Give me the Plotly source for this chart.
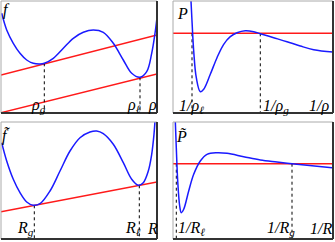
import plotly.graph_objects as go

# Top-left: f(rho)
f_x = [1.7, 6.7, 13.3, 20, 26.7, 33.3, 40, 44.3, 53.3, 63.3, 73.3, 83.3, 93.3, 103.3, 113.3, 123.3, 131.7, 140, 146.7, 151.7, 155, 156.7]
f_y = [13.3, 30, 43.3, 53.3, 60, 63.3, 64, 63.3, 58.3, 48.3, 38.3, 32.3, 30, 32.3, 43.3, 60, 73.3, 77.3, 71.7, 53.3, 33.3, 20]
f_tan1 = ([1, 157], [75, 35])
f_tan2 = ([1, 157], [112.7, 74])
f_drop = {"x": [44.3, 140], "y": [63.3, 77.3]}
f_labels = ["ρ<sub>g</sub>", "ρ<sub>ℓ</sub>", "ρ"]
f_label_x = [38, 134, 152]

# Top-right: P(1/rho)
P_x = [18, 19, 20.7, 23.3, 27.3, 30.7, 37.3, 44, 50.7, 57.3, 64, 72.3, 80.7, 87.3, 100.7, 114, 127.3, 140.7, 160]
P_y = [0, 20, 50, 76.7, 90.7, 88.3, 73.3, 56.7, 43.3, 35.7, 31.7, 29.7, 30.7, 32.7, 36.7, 40.7, 45, 48.7, 51]
P_level = 32.3
P_drop_x = [19, 87.3]
P_labels = ["1/ρ<sub>ℓ</sub>", "1/ρ<sub>g</sub>", "1/ρ"]
P_label_x = [18, 103, 146]

# Bottom-left: f~(R)
ft_x = [1.7, 6.7, 13.3, 20, 26.7, 33.3, 40, 50, 60, 70, 80, 90, 96.7, 103.3, 113.3, 123.3, 131.7, 138.3, 143.3, 148.3, 151.7, 154, 155]
ft_y = [20.7, 39, 57.3, 70.7, 80, 83.3, 81.7, 69, 49, 29, 15.7, 10, 9, 11.7, 22.3, 40.7, 57.3, 63.3, 60.7, 49, 32.3, 12.3, -1]
ft_tan = ([1, 157], [89.7, 60])
ft_drop = {"x": [34.3, 139.3], "y": [83.3, 63.3]}
ft_labels = ["R<sub>g</sub>", "R<sub>ℓ</sub>", "R"]
ft_label_x = [25, 133, 152]

# Bottom-right: P~(1/R)
Pt_x = [2.3, 3.3, 4.7, 6.7, 8.3, 10.7, 15.7, 20.7, 27.3, 34, 44, 54, 70.7, 87.3, 104, 119, 134, 159]
Pt_y = [-1, 25.7, 59, 84, 90.7, 87.3, 69, 52.3, 39, 32.3, 30.7, 31.3, 34.7, 38, 40, 41.7, 43.3, 45.7]
Pt_level = 41.7
Pt_drop_x = [3.3, 119]
Pt_labels = ["1/R<sub>ℓ</sub>", "1/R<sub>g</sub>", "1/R"]
Pt_label_x = [18, 108, 148]

# ---------------- layout ----------------
W, H = 335, 242
panels = {
    "TL": dict(xd=[1 / W, 157 / W], yd=[129 / H, 241 / H], xr=[1, 157], yr=[113, 1]),
    "TR": dict(xd=[173 / W, 333 / W], yd=[129 / H, 241 / H], xr=[0, 160], yr=[112, 0]),
    "BL": dict(xd=[1 / W, 157 / W], yd=[3 / H, 120 / H], xr=[1, 157], yr=[117, 0]),
    "BR": dict(xd=[173 / W, 333 / W], yd=[3 / H, 120 / H], xr=[0, 160], yr=[117, 0]),
}
order = ["TL", "TR", "BL", "BR"]

fig = go.Figure()
BLUE = "#1a1aff"
RED = "#ff1a1a"
FONT = dict(family="Liberation Serif", size=16, color="black")

layout = dict(width=W, height=H, margin=dict(l=0, r=0, t=0, b=0),
              paper_bgcolor="white", plot_bgcolor="white", showlegend=False)
shapes = []
annotations = []
for i, k in enumerate(order):
    p = panels[k]
    sx = "" if i == 0 else str(i + 1)
    layout["xaxis" + sx] = dict(domain=p["xd"], range=p["xr"], visible=False, fixedrange=True,
                                anchor="y" + sx)
    layout["yaxis" + sx] = dict(domain=p["yd"], range=p["yr"], visible=False, fixedrange=True,
                                anchor="x" + sx)
    x0, x1 = p["xd"]
    y0, y1 = p["yd"]
    # frame: light top/left, dark bottom/right
    shapes += [
        dict(type="line", xref="paper", yref="paper", x0=x0, x1=x1, y0=y1, y1=y1, line=dict(color="#aaaaaa", width=1)),
        dict(type="line", xref="paper", yref="paper", x0=x0, x1=x0, y0=y0, y1=y1, line=dict(color="#aaaaaa", width=1)),
        dict(type="line", xref="paper", yref="paper", x0=x0, x1=x1, y0=y0, y1=y0, line=dict(color="#333333", width=2)),
        dict(type="line", xref="paper", yref="paper", x0=x1, x1=x1, y0=y0, y1=y1, line=dict(color="#333333", width=2)),
    ]


def axes(i):
    s = "" if i == 0 else str(i + 1)
    return "x" + s, "y" + s


def curve(i, xs, ys):
    xa, ya = axes(i)
    fig.add_trace(go.Scatter(x=xs, y=ys, mode="lines", line=dict(color=BLUE, width=1.5, shape="spline", smoothing=1.0),
                             xaxis=xa, yaxis=ya, hoverinfo="skip"))


def redline(i, xs, ys):
    xa, ya = axes(i)
    fig.add_trace(go.Scatter(x=xs, y=ys, mode="lines", line=dict(color=RED, width=1.5),
                             xaxis=xa, yaxis=ya, hoverinfo="skip"))


def drops(i, xs, ys, bottom):
    xa, ya = axes(i)
    for x, y in zip(xs, ys):
        fig.add_trace(go.Scatter(x=[x, x], y=[y, bottom], mode="lines",
                                 line=dict(color="black", width=1, dash="dot"),
                                 xaxis=xa, yaxis=ya, hoverinfo="skip"))


def labels(i, texts, xs, y):
    xa, ya = axes(i)
    for t, x in zip(texts, xs):
        annotations.append(dict(x=x, y=y, xref=xa, yref=ya, text="<i>" + t + "</i>", showarrow=False,
                                font=FONT, xanchor="center", yanchor="middle"))


# TL
redline(0, *f_tan1)
redline(0, *f_tan2)
drops(0, f_drop["x"], f_drop["y"], 113)
curve(0, f_x, f_y)
labels(0, f_labels, f_label_x, 105)
annotations.append(dict(x=6, y=10, xref="x", yref="y", text="<i>f</i>", showarrow=False, font=FONT,
                        xanchor="center", yanchor="middle"))

# TR
redline(1, [0, 160], [P_level, P_level])
drops(1, P_drop_x, [P_level, P_level], 112)
curve(1, P_x, P_y)
labels(1, P_labels, P_label_x, 105)
annotations.append(dict(x=9, y=13, xref="x2", yref="y2", text="<i>P</i>", showarrow=False, font=FONT,
                        xanchor="center", yanchor="middle"))

# BL
redline(2, *ft_tan)
drops(2, ft_drop["x"], ft_drop["y"], 117)
curve(2, ft_x, ft_y)
labels(2, ft_labels, ft_label_x, 106)
annotations.append(dict(x=6, y=14, xref="x3", yref="y3", text="<i>f\u0303</i>", showarrow=False, font=FONT,
                        xanchor="center", yanchor="middle"))

# BR
redline(3, [0, 160], [Pt_level, Pt_level])
drops(3, Pt_drop_x, [Pt_level, Pt_level], 117)
curve(3, Pt_x, Pt_y)
labels(3, Pt_labels, Pt_label_x, 106)
annotations.append(dict(x=8, y=14, xref="x4", yref="y4", text="<i>P\u0303</i>", showarrow=False, font=FONT,
                        xanchor="center", yanchor="middle"))

layout["shapes"] = shapes
layout["annotations"] = annotations
fig.update_layout(**layout)
fig.write_html("out.html", config={"displayModeBar": False},
               post_script="document.body.style.margin='0';document.body.style.padding='0';")
